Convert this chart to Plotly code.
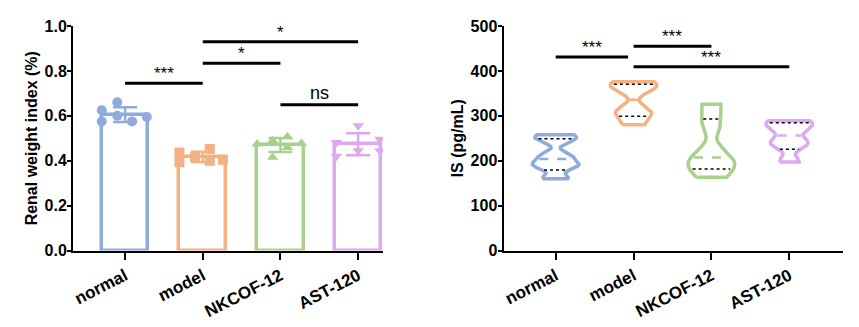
import numpy as np
import plotly.graph_objects as go

categories = ["normal", "model", "NKCOF-12", "AST-120"]
colors = ["#8FAADC", "#F4B183", "#A9D18E", "#DCA8F0"]
symbols = ["circle", "square", "triangle-up", "triangle-down"]

# Renal weight index (%) per animal
rwi_normal = [0.625, 0.575, 0.660, 0.600, 0.575, 0.595]
rwi_model = [0.437, 0.393, 0.415, 0.452, 0.400, 0.404]
rwi_nkcof = [0.474, 0.489, 0.415, 0.507, 0.459, 0.477]
rwi_ast = [0.481, 0.420, 0.556, 0.444, 0.496, 0.444]
rwi_groups = [rwi_normal, rwi_model, rwi_nkcof, rwi_ast]
jitter = [[-0.30, -0.30, -0.10, -0.10, 0.09, 0.28],
          [-0.30, -0.30, -0.10, 0.09, 0.09, 0.26],
          [-0.30, -0.10, -0.10, 0.09, 0.09, 0.27],
          [-0.28, -0.28, 0.0, 0.0, 0.28, 0.28]]

# IS (pg/mL) per animal
is_normal = [160, 186, 196, 212, 246, 258]
is_model = [280, 305, 312, 360, 368, 376]
is_nkcof = [163, 188, 195, 219, 282, 326]
is_ast = [197, 235, 243, 269, 283, 289]
is_groups = [is_normal, is_model, is_nkcof, is_ast]
bandwidths = [9, 14, 20, 12]

# significance comparisons: (group a, group b, bar height, label)
rwi_sig = [(0, 1, 0.745, "***"), (1, 2, 0.834, "*"), (1, 3, 0.930, "*"), (2, 3, 0.649, "ns")]
is_sig = [(0, 0.93, 431, "***"), (1, 2, 455, "***"), (1, 3, 409, "***")]

fig = go.Figure()
font_b = dict(family="Liberation Sans", size=16, color="black", weight="bold")
font_x = dict(family="Liberation Sans", size=17, color="black", weight="bold")

# ---- left: bars with SD and points
for i, vals in enumerate(rwi_groups):
    v = np.array(vals)
    fig.add_trace(go.Bar(
        x=[i], y=[v.mean()], width=0.6, xaxis="x", yaxis="y",
        marker=dict(color="white", line=dict(color=colors[i], width=3.5)),
        error_y=dict(type="data", array=[v.std(ddof=1)], color=colors[i], thickness=2.5, width=12),
        showlegend=False))
for i, vals in enumerate(rwi_groups):
    fig.add_trace(go.Scatter(
        x=[i + o for o in jitter[i]], y=vals, mode="markers", xaxis="x", yaxis="y",
        marker=dict(symbol=symbols[i], size=10, color=colors[i]), showlegend=False))

# ---- right: violins (Gaussian KDE computed from data)
half = 0.30
for i, vals in enumerate(is_groups):
    v = np.array(vals, float)
    ys = np.linspace(v.min(), v.max(), 300)
    dens = np.exp(-0.5 * ((ys[:, None] - v[None, :]) / bandwidths[i]) ** 2).sum(1)
    w = dens / dens.max() * half
    xs = np.concatenate([i - w, (i + w)[::-1], [i - w[0]]])
    yy = np.concatenate([ys, ys[::-1], [ys[0]]])
    fig.add_trace(go.Scatter(x=xs, y=yy, mode="lines", xaxis="x2", yaxis="y2",
                             line=dict(color=colors[i], width=3.5), showlegend=False))
    q1, med, q3 = np.percentile(v, [25, 50, 75], method="weibull")
    for q, dash, col, lw in [(q1, "dot", "black", 1.5), (q3, "dot", "black", 1.5), (med, "dash", colors[i], 2.5)]:
        wq = np.interp(q, ys, w) * 0.85
        fig.add_trace(go.Scatter(x=[i - wq, i + wq], y=[q, q], mode="lines", xaxis="x2", yaxis="y2",
                                 line=dict(color=col, width=lw, dash=dash), showlegend=False))

# ---- significance bars
for a, b, h, lab in rwi_sig:
    fig.add_trace(go.Scatter(x=[a, b], y=[h, h], mode="lines", xaxis="x", yaxis="y",
                             line=dict(color="black", width=3), showlegend=False))
    fig.add_annotation(x=(a + b) / 2, y=h, xref="x", yref="y", text=lab, showarrow=False,
                       yanchor="bottom", yshift=-2 if lab != "ns" else 0,
                       font=dict(family="Liberation Sans", size=17 if lab != "ns" else 18, color="black"))
for a, b, h, lab in is_sig:
    fig.add_trace(go.Scatter(x=[a, b], y=[h, h], mode="lines", xaxis="x2", yaxis="y2",
                             line=dict(color="black", width=3), showlegend=False))
    fig.add_annotation(x=(a + b) / 2, y=h, xref="x2", yref="y2", text=lab, showarrow=False,
                       yanchor="bottom", yshift=-2,
                       font=dict(family="Liberation Sans", size=17, color="black"))

ydom = [1 - 250.5 / 327, 1 - 26 / 327]
common_x = dict(tickmode="array", tickvals=[0, 1, 2, 3], ticktext=categories, tickangle=-27,
                ticks="outside", ticklen=7, tickwidth=2, tickcolor="black", showline=True,
                linecolor="black", linewidth=2, showgrid=False, zeroline=False, tickfont=font_x,
                automargin=False)
common_y = dict(ticks="outside", ticklen=4, tickwidth=2, tickcolor="black", showline=True,
                linecolor="black", linewidth=2, showgrid=False, zeroline=False, tickfont=font_b,
                automargin=False, ticklabelstandoff=-3)

fig.update_layout(
    width=859, height=327, margin=dict(l=0, r=0, t=0, b=0),
    plot_bgcolor="white", paper_bgcolor="white", bargap=0,
    xaxis=dict(domain=[73 / 859, 383 / 859], range=[-0.67, 3.32], anchor="y", **common_x),
    yaxis=dict(domain=ydom, range=[0, 1.0], anchor="x", tickvals=[0, 0.2, 0.4, 0.6, 0.8, 1.0],
               ticktext=["0.0", "0.2", "0.4", "0.6", "0.8", "1.0"],
               title=dict(text="Renal weight index (%)", font=font_b, standoff=3), **common_y),
    xaxis2=dict(domain=[503.5 / 859, 843 / 859], range=[-0.67, 3.69], anchor="y2", **common_x),
    yaxis2=dict(domain=ydom, range=[0, 500], anchor="x2", tickvals=[0, 100, 200, 300, 400, 500],
                title=dict(text="IS (pg/mL)", font=font_b, standoff=3), **common_y),
)

fig.write_html("out.html")
